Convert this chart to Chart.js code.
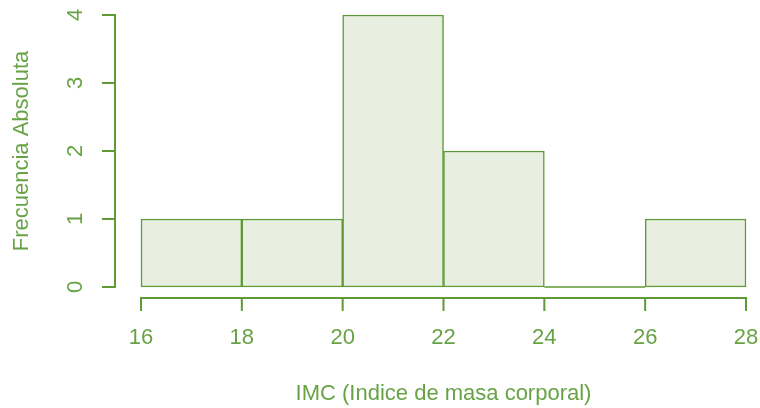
<!DOCTYPE html>
<html>
<head>
<meta charset="utf-8">
<script src="https://cdn.jsdelivr.net/npm/chart.js@4/dist/chart.umd.min.js"></script>
<style>
  body { margin: 0; background: #ffffff; }
  canvas { display: block; }
</style>
</head>
<body>
<canvas id="hist" width="760" height="408"></canvas>
<script>
// Datos del histograma (IMC)
var binStarts = [16, 18, 20, 22, 24, 26];
var binWidth = 2;
var counts = [1, 1, 4, 2, 0, 1];
var xTicks = [16, 18, 20, 22, 24, 26, 28];
var yTicks = [0, 1, 2, 3, 4];
var xTitle = "IMC (Indice de masa corporal)";
var yTitle = "Frecuencia Absoluta";

var lineColor = "#5e9a36";
var textColor = "#67a345";
var fillColor = "#e8efe1";
var font = "22px 'Liberation Sans', Arial, sans-serif";

// barras: punto medio de cada clase
var barData = binStarts.map(function (s, i) {
    return { x: s + binWidth / 2, y: counts[i] };
});

// clases con frecuencia 0 -> R dibuja un rectángulo plano
var zeroData = [];
binStarts.forEach(function (s, i) {
    if (counts[i] === 0) {
        zeroData.push({ x: s, y: 0 }, { x: s + binWidth, y: 0 }, { x: NaN, y: NaN });
    }
});

// Ejes estilo R (separados del área del gráfico)
var rAxes = {
    id: "rAxes",
    afterDraw: function (chart) {
        var ctx = chart.ctx;
        var xs = chart.scales.x, ys = chart.scales.y;
        var area = chart.chartArea;
        var axX = area.left - 26;
        var axY = area.bottom + 11;
        var tick = 13;

        ctx.save();
        ctx.strokeStyle = lineColor;
        ctx.lineWidth = 2;
        ctx.lineCap = "butt";

        // eje Y
        ctx.beginPath();
        ctx.moveTo(axX, ys.getPixelForValue(yTicks[0]));
        ctx.lineTo(axX, ys.getPixelForValue(yTicks[yTicks.length - 1]));
        yTicks.forEach(function (v) {
            var py = ys.getPixelForValue(v);
            ctx.moveTo(axX + 1, py);
            ctx.lineTo(axX - tick, py);
        });
        ctx.stroke();

        // eje X
        ctx.beginPath();
        ctx.moveTo(xs.getPixelForValue(xTicks[0]), axY);
        ctx.lineTo(xs.getPixelForValue(xTicks[xTicks.length - 1]), axY);
        xTicks.forEach(function (v) {
            var px = xs.getPixelForValue(v);
            ctx.moveTo(px, axY - 1);
            ctx.lineTo(px, axY + tick);
        });
        ctx.stroke();

        ctx.fillStyle = textColor;
        ctx.font = font;
        ctx.textAlign = "center";
        ctx.textBaseline = "middle";

        xTicks.forEach(function (v) {
            ctx.fillText(String(v), xs.getPixelForValue(v), axY + 40);
        });
        ctx.fillText(xTitle, (xs.left + xs.right) / 2, axY + 96);

        yTicks.forEach(function (v) {
            ctx.save();
            ctx.translate(axX - 39, ys.getPixelForValue(v));
            ctx.rotate(-Math.PI / 2);
            ctx.fillText(String(v), 0, 0);
            ctx.restore();
        });
        ctx.save();
        ctx.translate(axX - 93, (ys.top + ys.bottom) / 2);
        ctx.rotate(-Math.PI / 2);
        ctx.fillText(yTitle, 0, 0);
        ctx.restore();

        ctx.restore();
    }
};

new Chart(document.getElementById("hist").getContext("2d"), {
    type: "bar",
    data: {
        datasets: [
            {
                type: "bar",
                data: barData,
                backgroundColor: fillColor,
                borderColor: lineColor,
                borderWidth: 1.5,
                borderSkipped: false,
                barPercentage: 1,
                categoryPercentage: 1,
                clip: false
            },
            {
                type: "line",
                data: zeroData,
                borderColor: lineColor,
                borderWidth: 1.5,
                pointRadius: 0,
                spanGaps: false,
                clip: false
            }
        ]
    },
    options: {
        responsive: false,
        animation: false,
        layout: { padding: { left: 141, right: 14, top: 15, bottom: 121 } },
        plugins: {
            legend: { display: false },
            tooltip: { enabled: false }
        },
        scales: {
            x: { type: "linear", offset: false, min: xTicks[0], max: xTicks[xTicks.length - 1], display: false },
            y: { type: "linear", min: yTicks[0], max: yTicks[yTicks.length - 1], display: false }
        }
    },
    plugins: [rAxes]
});
</script>
</body>
</html>
